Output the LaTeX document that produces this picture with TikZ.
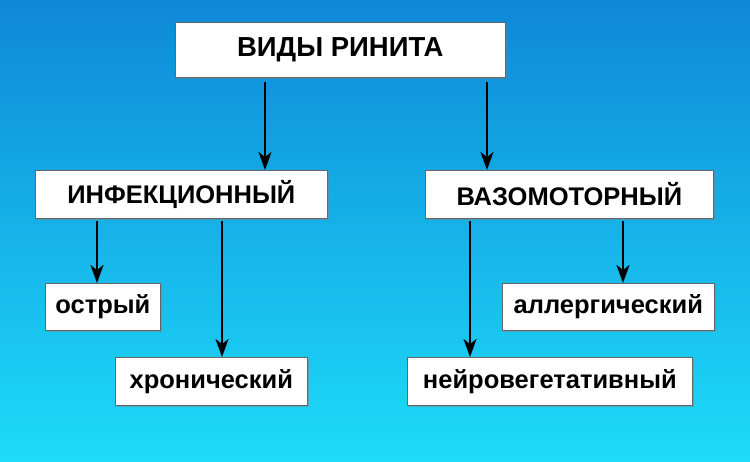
\documentclass[tikz,border=0pt]{standalone}
\usepackage{fontspec}
\setmainfont{Liberation Sans}
\usetikzlibrary{shadows,arrows.meta}
\definecolor{bgtop}{HTML}{0E88D8}
\definecolor{bgbot}{HTML}{1EDCF8}
\begin{document}
\begin{tikzpicture}[x=1pt,y=-1pt,
  box/.style={draw=black!60,line width=0.6pt,fill=white,drop shadow={shadow xshift=2pt,shadow yshift=-2pt,opacity=0.5},font=\bfseries\fontsize{25.5}{28}\selectfont,inner sep=0pt,anchor=north west},
  arr/.style={-{Stealth[length=18pt,width=13pt,inset=5pt]},line width=2.2pt}]
\shade[top color=bgtop,bottom color=bgbot] (0,0) rectangle (750,462);
\useasboundingbox (0,0) rectangle (750,462);
\node[box,minimum width=330,minimum height=55,font=\bfseries\fontsize{27.5}{30}\selectfont] (t) at (175,22) {ВИДЫ РИНИТА};
\node[box,minimum width=292,minimum height=48] (inf) at (35,170) {ИНФЕКЦИОННЫЙ};
\node[box,minimum width=288,minimum height=48] (vaz) at (425,170) {ВАЗОМОТОРНЫЙ};
\node[box,minimum width=115,minimum height=47] (ost) at (45,283) {острый};
\node[box,minimum width=192,minimum height=48] (hr) at (115,357) {хронический};
\node[box,minimum width=212,minimum height=47] (al) at (502,283) {аллергический};
\node[box,minimum width=285,minimum height=48] (ne) at (407,357) {нейровегетативный};
\coordinate (a1) at (265,82); \coordinate (a2) at (487,82);
\draw[arr] (a1) -- (a1|-inf.north);
\draw[arr] (a2) -- (a2|-vaz.north);
\coordinate (b1) at (97,221); \coordinate (b2) at (222,221);
\coordinate (b3) at (470,221); \coordinate (b4) at (623,221);
\draw[arr] (b1) -- (b1|-ost.north);
\draw[arr] (b2) -- (b2|-hr.north);
\draw[arr] (b3) -- (b3|-ne.north);
\draw[arr] (b4) -- (b4|-al.north);
\end{tikzpicture}
\end{document}
